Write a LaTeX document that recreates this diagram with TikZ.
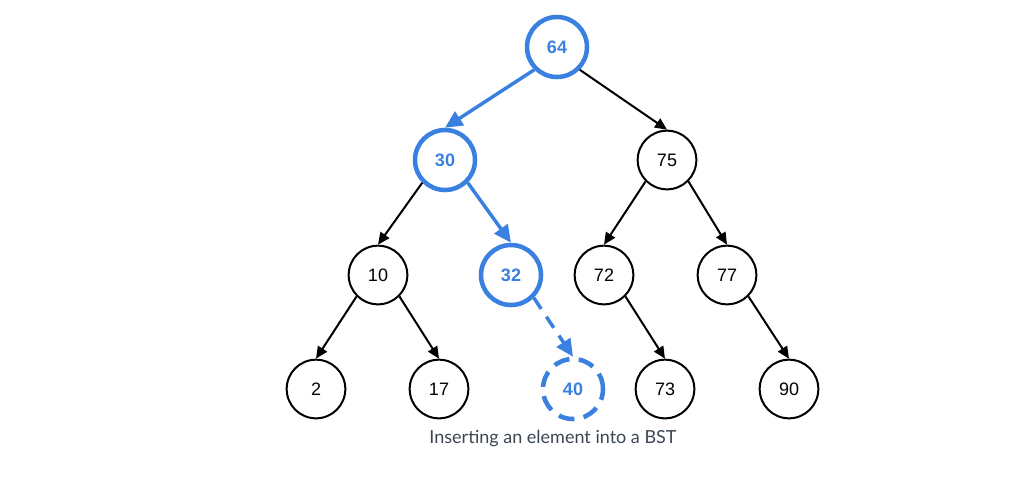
\documentclass[tikz,border=0pt]{standalone}
\usepackage{fontspec}
\setmainfont{Liberation Sans}
\newfontfamily\captionfont{Lato}
\usetikzlibrary{arrows.meta}
\definecolor{pathblue}{HTML}{3A80E0}
\definecolor{captiongray}{HTML}{3B4652}
\begin{document}
\begin{tikzpicture}[
  x=0.75pt, y=-0.75pt,
  key/.style={circle, draw=black, line width=1.5pt, minimum size=44pt, inner sep=0pt,
              font=\fontsize{13.5}{15}\selectfont},
  visited/.style={key, draw=pathblue, line width=3.4pt, minimum size=45pt, text=pathblue,
                  font=\fontsize{13.5}{15}\selectfont\bfseries},
  newkey/.style={visited, dash pattern=on 12pt off 7pt},
  edge/.style={line width=1.5pt, -{Triangle[length=9pt, width=8pt]}},
  walk/.style={line width=2.6pt, pathblue, -{Triangle[length=13pt, width=12pt]}},
]
\useasboundingbox (0,0) rectangle (1016,480);

% level 0 and 1
\node[visited] (k64) at (557, 47) {64};
\node[visited] (k30) at (445,160) {30};
\node[key]     (k75) at (667,160) {75};

% level 2
\node[key]     (k10) at (378,275) {10};
\node[visited] (k32) at (511,275) {32};
\node[key]     (k72) at (604,275) {72};
\node[key]     (k77) at (727,275) {77};

% level 3, with the inserted key
\node[key]     (k2)  at (316,389) {2};
\node[key]     (k17) at (439,389) {17};
\node[newkey]  (k40) at (573,389) {40};
\node[key]     (k73) at (665,389) {73};
\node[key]     (k90) at (789,389) {90};

% search path
\draw[walk] (k64.south west) -- (k30.north);
\draw[walk] (k30.south east) -- (k32.north);
\draw[walk, dash pattern=on 10pt off 7pt] (k32.south east) -- (k40.north);

% remaining links
\draw[edge] (k64.south east) -- (k75.north);
\draw[edge] (k30.south west) -- (k10.north);
\draw[edge] (k75.south west) -- (k72.north);
\draw[edge] (k75.south east) -- (k77.north);
\draw[edge] (k10.south west) -- (k2.north);
\draw[edge] (k10.south east) -- (k17.north);
\draw[edge] (k72.south east) -- (k73.north);
\draw[edge] (k77.south east) -- (k90.north);

\node[font=\captionfont\fontsize{13.5}{15}\selectfont, text=captiongray] (cap) at (553,438)
  {Inserting an element into a BST};
\end{tikzpicture}
\end{document}
